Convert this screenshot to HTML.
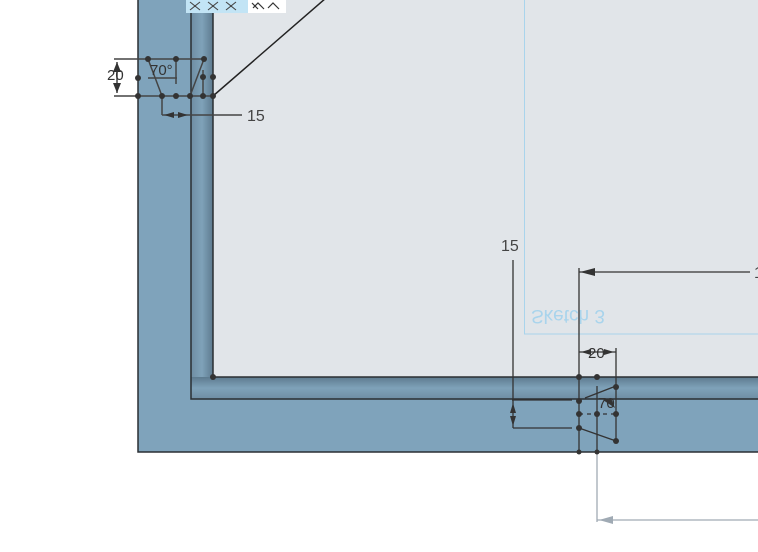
<!DOCTYPE html>
<html><head><style>
html,body{margin:0;padding:0;background:#fff;width:758px;height:552px;overflow:hidden}
svg{display:block}
text{font-family:"Liberation Sans",sans-serif}
</style></head><body>
<svg width="758" height="552" viewBox="0 0 758 552">
<defs>
<linearGradient id="gv" x1="0" x2="1" y1="0" y2="0">
<stop offset="0" stop-color="#6f8ea3"/><stop offset="0.5" stop-color="#7fa2b9"/><stop offset="1" stop-color="#5d7a8e"/>
</linearGradient>
<linearGradient id="gh" x1="0" x2="0" y1="0" y2="1">
<stop offset="0" stop-color="#5d7a8e"/><stop offset="0.5" stop-color="#7fa2b9"/><stop offset="1" stop-color="#6f8ea3"/>
</linearGradient>
</defs>
<rect x="138" y="-2" width="622" height="454" fill="#7fa3bb" stroke="#2a2f33" stroke-width="1.5"/>
<rect x="191" y="-2" width="22" height="401" fill="url(#gv)"/>
<rect x="191" y="377" width="570" height="22" fill="url(#gh)"/>
<path d="M191 -2 V399 H760" fill="none" stroke="#2a2f33" stroke-width="1.5"/>
<rect x="213" y="-2" width="547" height="379" fill="#e1e5e9"/>
<path d="M213 -2 V377 H760" fill="none" stroke="#2a2f33" stroke-width="1.5"/>
<rect x="524.5" y="-2" width="240" height="336" fill="none" stroke="#a9d4ec" stroke-width="1"/>
<text x="0" y="0" font-size="19" fill="#a9d4ec" transform="translate(531,310) scale(1,-1)">Sketch 3</text>
<rect x="186" y="0" width="62" height="13" fill="#c2e4f5"/>
<rect x="248" y="0" width="38" height="13" fill="#fff"/>
<g stroke="#444" stroke-width="1.1" fill="none">
<path d="M190 2 l5 4 l-5 4 M200 2 l-5 4 l5 4 M208 2 l5 4 l-5 4 M218 2 l-5 4 l5 4 M226 2 l5 4 l-5 4 M236 2 l-5 4 l5 4"/>
<path d="M252 3 l6 6 M253 8 l5 -5 l6 6 M268 8 l5 -5 l6 6" stroke="#333" stroke-width="1.2"/>
</g>
<line x1="213" y1="96" x2="326" y2="-2" stroke="#222" stroke-width="1.5"/>
<g stroke="#444" stroke-width="1.5" fill="none">
<line x1="114" y1="59" x2="204" y2="59"/>
<line x1="114" y1="96" x2="213" y2="96"/>
<line x1="148" y1="59" x2="162" y2="96"/>
<line x1="204" y1="59" x2="190" y2="96"/>
<line x1="148" y1="78" x2="177" y2="78"/>
<line x1="176" y1="59" x2="176" y2="84"/>
<line x1="162" y1="96" x2="162" y2="115"/>
<line x1="162" y1="115" x2="242" y2="115"/>
<line x1="117" y1="62" x2="117" y2="93"/>
<line x1="203" y1="70" x2="203" y2="96"/>
</g>
<g fill="#333">
<circle cx="148" cy="59" r="3"/><circle cx="176" cy="59" r="3"/><circle cx="204" cy="59" r="3"/>
<circle cx="138" cy="78" r="3"/><circle cx="203" cy="77" r="3"/><circle cx="213" cy="77" r="3"/>
<circle cx="138" cy="96" r="3"/><circle cx="162" cy="96" r="3"/><circle cx="176" cy="96" r="3"/>
<circle cx="190" cy="96" r="3"/><circle cx="203" cy="96" r="3"/><circle cx="213" cy="96" r="3"/>
<circle cx="213" cy="377" r="3"/>
<path d="M117 62 l-4 10 h8z M117 93 l-4 -10 h8z M164 115 l10 -3 v6z M188 115 l-10 -3 v6z"/>
</g>
<text x="107" y="80" font-size="15" fill="#333">20</text>
<text x="150" y="75" font-size="15" fill="#333">70°</text>
<text x="247" y="121" font-size="16" fill="#444">15</text>
<g stroke="#333" stroke-width="1.3" fill="none">
<line x1="513" y1="260" x2="513" y2="428"/>
<line x1="513" y1="428" x2="572" y2="428"/>
<line x1="512" y1="400" x2="572" y2="400"/>
<line x1="579" y1="268" x2="579" y2="452"/>
<line x1="579" y1="272" x2="750" y2="272"/>
<line x1="579" y1="352" x2="616" y2="352"/>
<line x1="616" y1="348" x2="616" y2="441"/>
<line x1="579" y1="428" x2="616" y2="441"/>
<line x1="585" y1="398" x2="616" y2="386"/>
<line x1="597" y1="386" x2="597" y2="450"/>
<line x1="579" y1="414" x2="616" y2="414" stroke-dasharray="4 4"/>
</g>
<line x1="597" y1="452" x2="597" y2="522" stroke="#a0aab4" stroke-width="1.3"/>
<line x1="597" y1="520" x2="758" y2="520" stroke="#a0aab4" stroke-width="1.3"/>
<path d="M599 520 l14 -4 v8z" fill="#a0aab4"/>
<g fill="#333">
<circle cx="579" cy="377" r="3"/><circle cx="597" cy="377" r="3"/><circle cx="616" cy="387" r="3"/>
<circle cx="579" cy="401" r="3"/><circle cx="579" cy="414" r="3"/><circle cx="597" cy="414" r="3"/><circle cx="616" cy="414" r="3"/>
<circle cx="579" cy="428" r="3"/><circle cx="616" cy="441" r="3"/>
<circle cx="579" cy="452" r="2.5"/><circle cx="597" cy="452" r="2.5"/>
<path d="M580 272 l15 -4 v8z M581 352 l10 -3 v6z M614 352 l-10 -3 v6z M513 403 l-3 10 h6z M513 426 l-3 -10 h6z M603 400 l12 8 l-4 -10z"/>
</g>
<text x="501" y="251" font-size="16" fill="#444">15</text>
<text x="588" y="358" font-size="15" fill="#333">20</text>
<text x="598" y="408" font-size="15" fill="#333">70</text>
<text x="754" y="278" font-size="16" fill="#444">1</text>
</svg>
</body></html>
